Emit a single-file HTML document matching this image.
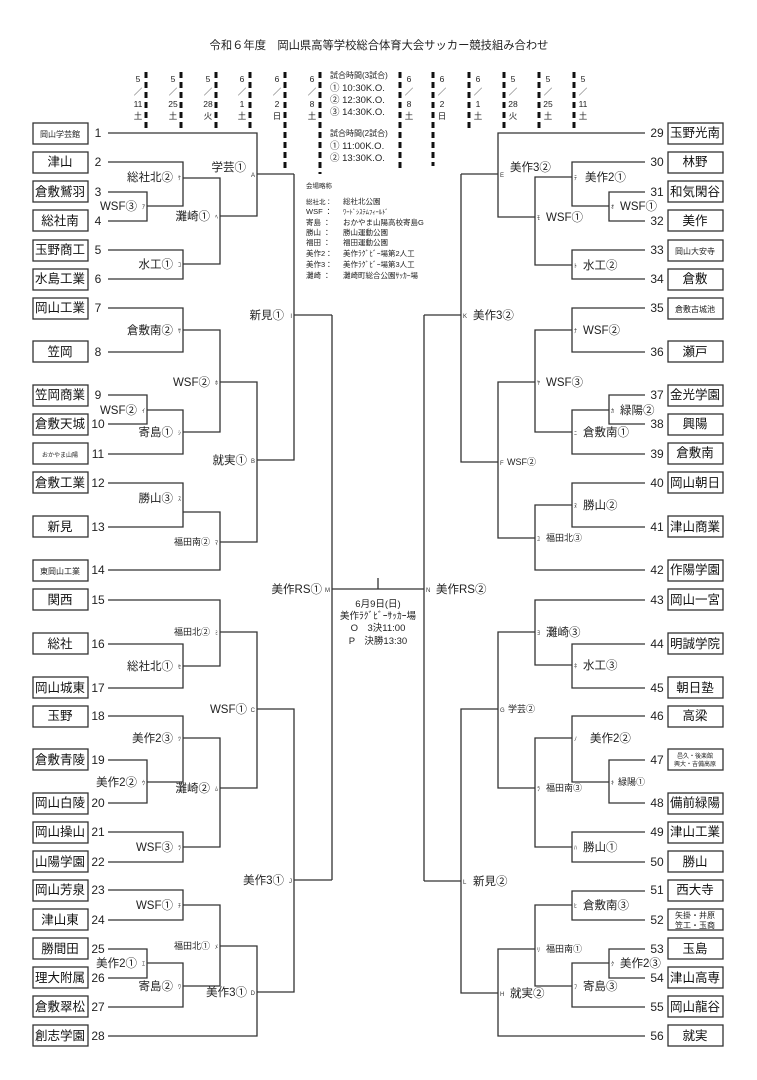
<!DOCTYPE html>
<html><head><meta charset="utf-8"><style>
html,body{margin:0;padding:0;background:#fff;}
svg{display:block;font-family:"Liberation Sans","Noto Sans CJK JP",sans-serif;}
.t{font-size:12.5px;fill:#111;}
.ts{font-size:8px;fill:#222;}
.tx{font-size:6px;fill:#222;}
.n{font-size:12px;fill:#222;}
.l{font-size:11.5px;fill:#222;}
.ls{font-size:9px;fill:#222;}
.k{font-size:6px;fill:#333;}
.d{font-size:8.5px;fill:#222;}
.v{font-size:7.5px;fill:#222;}
</style></head><body>
<svg width="757" height="1080" viewBox="0 0 757 1080" xmlns="http://www.w3.org/2000/svg">
<text x="379" y="49" text-anchor="middle" style="font-size:11.3px;fill:#222">令和６年度　岡山県高等学校総合体育大会サッカー競技組み合わせ</text>

<g stroke="#111" stroke-width="3" stroke-dasharray="6,4" fill="none">
<path d="M146 72V128M181 72V128M216 72V128M250 72V128M285 72V172M320 72V174"/>
<path d="M400 72V172M433 72V166M469 72V128M504 72V128M539 72V128M574 72V128"/>
</g>
<g class="d" text-anchor="middle">
<text x="138" y="82">5</text><text x="138" y="95">／</text><text x="138" y="107">11</text><text x="138" y="119">土</text>
<text x="173" y="82">5</text><text x="173" y="95">／</text><text x="173" y="107">25</text><text x="173" y="119">土</text>
<text x="208" y="82">5</text><text x="208" y="95">／</text><text x="208" y="107">28</text><text x="208" y="119">火</text>
<text x="242" y="82">6</text><text x="242" y="95">／</text><text x="242" y="107">1</text><text x="242" y="119">土</text>
<text x="277" y="82">6</text><text x="277" y="95">／</text><text x="277" y="107">2</text><text x="277" y="119">日</text>
<text x="312" y="82">6</text><text x="312" y="95">／</text><text x="312" y="107">8</text><text x="312" y="119">土</text>
<text x="409" y="82">6</text><text x="409" y="95">／</text><text x="409" y="107">8</text><text x="409" y="119">土</text>
<text x="442" y="82">6</text><text x="442" y="95">／</text><text x="442" y="107">2</text><text x="442" y="119">日</text>
<text x="478" y="82">6</text><text x="478" y="95">／</text><text x="478" y="107">1</text><text x="478" y="119">土</text>
<text x="513" y="82">5</text><text x="513" y="95">／</text><text x="513" y="107">28</text><text x="513" y="119">火</text>
<text x="548" y="82">5</text><text x="548" y="95">／</text><text x="548" y="107">25</text><text x="548" y="119">土</text>
<text x="583" y="82">5</text><text x="583" y="95">／</text><text x="583" y="107">11</text><text x="583" y="119">土</text>
</g>
<g style="font-size:9.5px;fill:#222">
<text x="330" y="78" style="font-size:8px">試合時間(3試合)</text>
<text x="330" y="91">① 10:30K.O.</text>
<text x="330" y="103">② 12:30K.O.</text>
<text x="330" y="115">③ 14:30K.O.</text>
<text x="330" y="136" style="font-size:8px">試合時間(2試合)</text>
<text x="330" y="149">① 11:00K.O.</text>
<text x="330" y="161">② 13:30K.O.</text>
</g>
<g class="v">
<text x="306" y="188" style="font-size:6.5px">会場略称</text>
<text x="306" y="204" style="font-size:6.5px">総社北：</text><text x="343" y="204">総社北公園</text>
<text x="306" y="214">WSF ：</text><text x="343" y="214" style="font-size:6.5px">ﾜｰﾄﾞｼｽﾃﾑﾌｨｰﾙﾄﾞ</text>
<text x="306" y="225">寄島 ：</text><text x="343" y="225">おかやま山陽高校寄島G</text>
<text x="306" y="235">勝山 ：</text><text x="343" y="235">勝山運動公園</text>
<text x="306" y="245">福田 ：</text><text x="343" y="245">福田運動公園</text>
<text x="306" y="256">美作2：</text><text x="343" y="256">美作ﾗｸﾞﾋﾞｰ場第2人工</text>
<text x="306" y="267">美作3：</text><text x="343" y="267">美作ﾗｸﾞﾋﾞｰ場第3人工</text>
<text x="306" y="278">灘崎 ：</text><text x="343" y="278">灘崎町総合公園ｻｯｶｰ場</text>
</g>

<g stroke="#333" stroke-width="1.3" fill="none">
<path d="M108 133H257V216H220M183 178H220V264H183M108 162H183V206H147M108 192H147V221H108M108 250H183V279H108"/>
<path d="M257 174H294M294 174V460H257M294 315H332"/>
<path d="M108 308H183V352H108M183 330H220V432H183M220 382H257V542H220M108 395H147V424H108M147 410H183V454H108M108 483H183V527H108M183 512H220V570H108"/>
<path d="M108 600H220V666H183M108 644H183V688H108M220 632H257V788H220M257 709H294V992H257M294 880H332"/>
<path d="M108 716H183V782H147M108 760H147V803H108M183 738H220V847H183M108 832H183V862H108M108 890H183V920H108M183 905H220V986H183M108 949H147V978H108M147 963H183V1007H108M220 946H257V1036H108"/>
<path d="M332 315V880M332 589H424M378 578V589M424 315V881"/>
<path d="M645 133H498V217H535M498 174H461M645 162H572V206H609M645 192H609V221H645M572 177H535V265H572M645 250H572V279H645M461 174V462H498M461 315H424"/>
<path d="M645 308H572V352H645M572 330H535V432H572M535 382H498V538H535M645 395H609V424H645M609 410H572V454H645M645 483H572V527H645M572 505H535V570H645"/>
<path d="M645 600H535V665H572M645 644H572V688H645M535 632H498V788H535M498 709H461V993H498M461 881H424M645 716H572V782H609M645 760H609V803H645M572 738H535V847H572M645 832H572V862H645M645 891H572V920H645M572 905H535V986H572M535 949H498V1036H645M645 949H609V978H645M609 963H572V1007H645"/>
</g>

<g fill="none" stroke="#333" stroke-width="1.3">
<rect x="33" y="123" width="55" height="21"/><rect x="33" y="152" width="55" height="21"/><rect x="33" y="181" width="55" height="21"/><rect x="33" y="210" width="55" height="21"/><rect x="33" y="240" width="55" height="21"/><rect x="33" y="269" width="55" height="21"/><rect x="33" y="298" width="55" height="21"/><rect x="33" y="341" width="55" height="21"/><rect x="33" y="385" width="55" height="21"/><rect x="33" y="414" width="55" height="21"/><rect x="33" y="443" width="55" height="21"/><rect x="33" y="472" width="55" height="21"/><rect x="33" y="516" width="55" height="21"/><rect x="33" y="560" width="55" height="21"/>
<rect x="33" y="589" width="55" height="21"/><rect x="33" y="633" width="55" height="21"/><rect x="33" y="677" width="55" height="21"/><rect x="33" y="706" width="55" height="21"/><rect x="33" y="749" width="55" height="21"/><rect x="33" y="793" width="55" height="21"/><rect x="33" y="822" width="55" height="21"/><rect x="33" y="851" width="55" height="21"/><rect x="33" y="880" width="55" height="21"/><rect x="33" y="909" width="55" height="21"/><rect x="33" y="938" width="55" height="21"/><rect x="33" y="967" width="55" height="21"/><rect x="33" y="996" width="55" height="21"/><rect x="33" y="1025" width="55" height="21"/>
<rect x="668" y="123" width="55" height="21"/><rect x="668" y="152" width="55" height="21"/><rect x="668" y="181" width="55" height="21"/><rect x="668" y="210" width="55" height="21"/><rect x="668" y="240" width="55" height="21"/><rect x="668" y="269" width="55" height="21"/><rect x="668" y="298" width="55" height="21"/><rect x="668" y="341" width="55" height="21"/><rect x="668" y="385" width="55" height="21"/><rect x="668" y="414" width="55" height="21"/><rect x="668" y="443" width="55" height="21"/><rect x="668" y="472" width="55" height="21"/><rect x="668" y="516" width="55" height="21"/><rect x="668" y="560" width="55" height="21"/>
<rect x="668" y="589" width="55" height="21"/><rect x="668" y="633" width="55" height="21"/><rect x="668" y="677" width="55" height="21"/><rect x="668" y="706" width="55" height="21"/><rect x="668" y="749" width="55" height="21"/><rect x="668" y="793" width="55" height="21"/><rect x="668" y="822" width="55" height="21"/><rect x="668" y="851" width="55" height="21"/><rect x="668" y="880" width="55" height="21"/><rect x="668" y="909" width="55" height="21"/><rect x="668" y="938" width="55" height="21"/><rect x="668" y="967" width="55" height="21"/><rect x="668" y="996" width="55" height="21"/><rect x="668" y="1025" width="55" height="21"/>
</g>
<g class="t" text-anchor="middle">
<text x="60" y="137" class="ts">岡山学芸館</text><text x="60" y="166">津山</text><text x="60" y="196">倉敷鷲羽</text><text x="60" y="225">総社南</text><text x="60" y="254">玉野商工</text><text x="60" y="283">水島工業</text><text x="60" y="312">岡山工業</text><text x="60" y="356">笠岡</text><text x="60" y="399">笠岡商業</text><text x="60" y="428">倉敷天城</text><text x="60" y="457" class="tx">おかやま山陽</text><text x="60" y="487">倉敷工業</text><text x="60" y="531">新見</text><text x="60" y="574" class="ts">東岡山工業</text>
<text x="60" y="604">関西</text><text x="60" y="648">総社</text><text x="60" y="692">岡山城東</text><text x="60" y="720">玉野</text><text x="60" y="764">倉敷青陵</text><text x="60" y="807">岡山白陵</text><text x="60" y="836">岡山操山</text><text x="60" y="866">山陽学園</text><text x="60" y="894">岡山芳泉</text><text x="60" y="924">津山東</text><text x="60" y="953">勝間田</text><text x="60" y="982">理大附属</text><text x="60" y="1011">倉敷翠松</text><text x="60" y="1040">創志学園</text>
<text x="695" y="137">玉野光南</text><text x="695" y="166">林野</text><text x="695" y="196">和気閑谷</text><text x="695" y="225">美作</text><text x="695" y="254" class="ts">岡山大安寺</text><text x="695" y="283">倉敷</text><text x="695" y="312" class="ts">倉敷古城池</text><text x="695" y="356">瀬戸</text><text x="695" y="399">金光学園</text><text x="695" y="428">興陽</text><text x="695" y="457">倉敷南</text><text x="695" y="487">岡山朝日</text><text x="695" y="531">津山商業</text><text x="695" y="574">作陽学園</text>
<text x="695" y="604">岡山一宮</text><text x="695" y="648">明誠学院</text><text x="695" y="692">朝日塾</text><text x="695" y="720">高梁</text><text x="695" y="758" class="tx">邑久・後楽館</text><text x="695" y="766" class="tx">興大・吉備高原</text><text x="695" y="807">備前緑陽</text><text x="695" y="836">津山工業</text><text x="695" y="866">勝山</text><text x="695" y="894">西大寺</text><text x="695" y="918" class="ts">矢掛・井原</text><text x="695" y="928" class="ts">笠工・玉商</text><text x="695" y="953">玉島</text><text x="695" y="982">津山高専</text><text x="695" y="1011">岡山龍谷</text><text x="695" y="1040">就実</text>
</g>
<g class="n" text-anchor="middle">
<text x="98" y="137">1</text><text x="98" y="166">2</text><text x="98" y="196">3</text><text x="98" y="225">4</text><text x="98" y="254">5</text><text x="98" y="283">6</text><text x="98" y="312">7</text><text x="98" y="356">8</text><text x="98" y="399">9</text><text x="98" y="428">10</text><text x="98" y="458">11</text><text x="98" y="487">12</text><text x="98" y="531">13</text><text x="98" y="574">14</text>
<text x="98" y="604">15</text><text x="98" y="648">16</text><text x="98" y="692">17</text><text x="98" y="720">18</text><text x="98" y="764">19</text><text x="98" y="807">20</text><text x="98" y="836">21</text><text x="98" y="866">22</text><text x="98" y="894">23</text><text x="98" y="924">24</text><text x="98" y="953">25</text><text x="98" y="982">26</text><text x="98" y="1011">27</text><text x="98" y="1040">28</text>
<text x="657" y="137">29</text><text x="657" y="166">30</text><text x="657" y="196">31</text><text x="657" y="225">32</text><text x="657" y="254">33</text><text x="657" y="283">34</text><text x="657" y="312">35</text><text x="657" y="356">36</text><text x="657" y="399">37</text><text x="657" y="428">38</text><text x="657" y="458">39</text><text x="657" y="487">40</text><text x="657" y="531">41</text><text x="657" y="574">42</text>
<text x="657" y="604">43</text><text x="657" y="648">44</text><text x="657" y="692">45</text><text x="657" y="720">46</text><text x="657" y="764">47</text><text x="657" y="807">48</text><text x="657" y="836">49</text><text x="657" y="866">50</text><text x="657" y="894">51</text><text x="657" y="924">52</text><text x="657" y="953">53</text><text x="657" y="982">54</text><text x="657" y="1011">55</text><text x="657" y="1040">56</text>
</g>

<g class="l" text-anchor="end">
<text x="173" y="181">総社北②</text><text x="137" y="210">WSF③</text><text x="246" y="171">学芸①</text><text x="210" y="220">灘崎①</text><text x="173" y="268">水工①</text><text x="284" y="319">新見①</text>
<text x="173" y="334">倉敷南②</text><text x="210" y="386">WSF②</text><text x="137" y="414">WSF②</text><text x="173" y="436">寄島①</text><text x="247" y="464">就実①</text><text x="173" y="502">勝山③</text>
<text x="322" y="593">美作RS①</text><text x="173" y="670">総社北①</text><text x="247" y="713">WSF①</text><text x="173" y="742">美作2③</text><text x="137" y="786">美作2②</text><text x="210" y="792">灘崎②</text>
<text x="173" y="851">WSF③</text><text x="284" y="884">美作3①</text><text x="173" y="909">WSF①</text><text x="137" y="967">美作2①</text><text x="173" y="990">寄島②</text><text x="247" y="996">美作3①</text>
</g>
<g class="ls" text-anchor="end">
<text x="210" y="545">福田南②</text><text x="210" y="635">福田北②</text><text x="210" y="949">福田北①</text>
</g>
<g class="k" text-anchor="end">
<text x="181" y="180">ｹ</text><text x="145" y="209">ｱ</text><text x="255" y="177">A</text><text x="218" y="219">ﾍ</text><text x="181" y="267">ｺ</text><text x="292" y="318">I</text>
<text x="181" y="333">ｻ</text><text x="218" y="385">ﾎ</text><text x="145" y="413">ｲ</text><text x="181" y="435">ｼ</text><text x="255" y="463">B</text><text x="181" y="501">ｽ</text><text x="218" y="545">ﾏ</text>
<text x="330" y="592">M</text><text x="218" y="635">ﾐ</text><text x="181" y="669">ｾ</text><text x="255" y="712">C</text><text x="181" y="741">ﾂ</text><text x="145" y="785">ｳ</text><text x="218" y="791">ﾑ</text>
<text x="181" y="850">ﾗ</text><text x="292" y="883">J</text><text x="181" y="908">ﾁ</text><text x="218" y="949">ﾒ</text><text x="145" y="966">ｴ</text><text x="181" y="989">ﾜ</text><text x="255" y="995">D</text>
</g>

<g class="l">
<text x="510" y="171">美作3②</text><text x="585" y="181">美作2①</text><text x="620" y="210">WSF①</text><text x="546" y="221">WSF①</text><text x="583" y="269">水工②</text><text x="473" y="319">美作3②</text>
<text x="583" y="334">WSF②</text><text x="546" y="386">WSF③</text><text x="620" y="414">緑陽②</text><text x="583" y="436">倉敷南①</text><text x="583" y="509">勝山②</text>
<text x="436" y="593">美作RS②</text><text x="546" y="636">灘崎③</text><text x="583" y="669">水工③</text><text x="590" y="742">美作2②</text>
<text x="583" y="851">勝山①</text><text x="473" y="885">新見②</text><text x="583" y="909">倉敷南③</text><text x="620" y="967">美作2③</text><text x="583" y="990">寄島③</text><text x="510" y="997">就実②</text>
</g>
<g class="ls">
<text x="507" y="465">WSF②</text><text x="546" y="541">福田北③</text><text x="508" y="712">学芸②</text><text x="618" y="785">緑陽①</text><text x="546" y="791">福田南③</text><text x="546" y="952">福田南①</text>
</g>
<g class="k">
<text x="500" y="177">E</text><text x="574" y="180">ﾃ</text><text x="611" y="209">ｵ</text><text x="537" y="220">ﾓ</text><text x="574" y="268">ﾄ</text><text x="463" y="318">K</text>
<text x="574" y="333">ﾅ</text><text x="537" y="385">ﾔ</text><text x="611" y="413">ｶ</text><text x="574" y="435">ﾆ</text><text x="500" y="465">F</text><text x="574" y="508">ﾇ</text><text x="537" y="541">ﾕ</text>
<text x="426" y="592">N</text><text x="537" y="635">ﾖ</text><text x="574" y="668">ﾈ</text><text x="500" y="712">G</text><text x="574" y="741">ﾉ</text><text x="611" y="785">ｷ</text><text x="537" y="791">ﾗ</text>
<text x="574" y="850">ﾊ</text><text x="463" y="884">L</text><text x="574" y="908">ﾋ</text><text x="537" y="952">ﾘ</text><text x="611" y="966">ｸ</text><text x="574" y="989">ﾌ</text><text x="500" y="996">H</text>
</g>

<g style="font-size:9.5px;fill:#222" text-anchor="middle">
<text x="378" y="607">6月9日(日)</text>
<text x="378" y="619">美作ﾗｸﾞﾋﾞｰｻｯｶｰ場</text>
<text x="378" y="631">O　3決11:00</text>
<text x="378" y="644">P　決勝13:30</text>
</g>
</svg>
</body></html>
